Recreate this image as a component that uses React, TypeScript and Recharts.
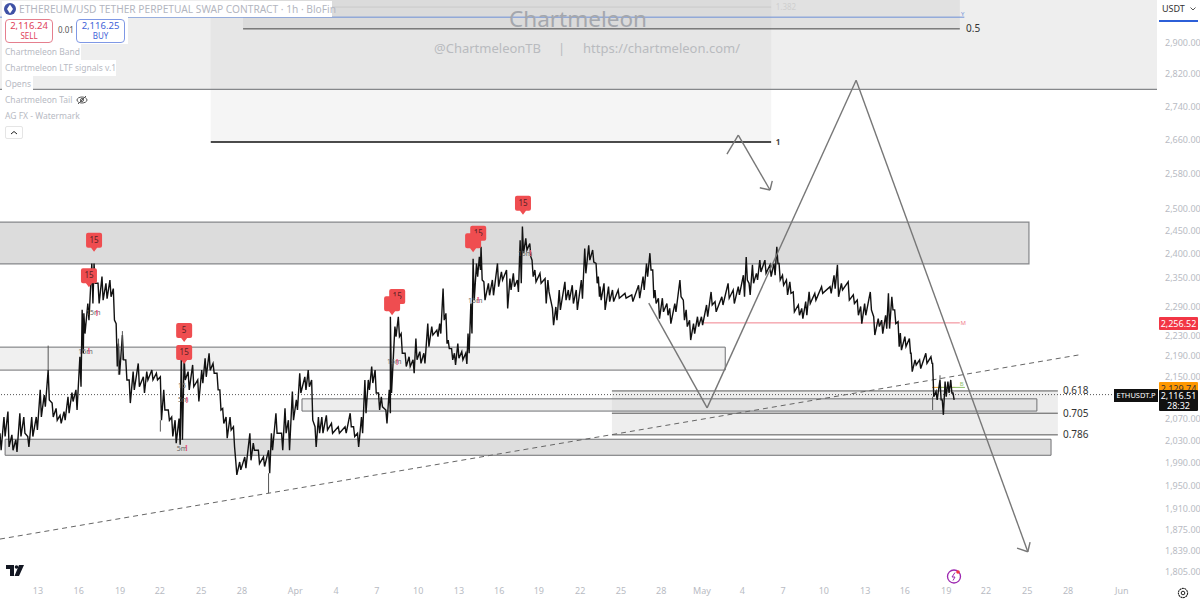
import {
  ComposedChart,
  Line,
  XAxis,
  YAxis,
  ReferenceArea,
  ReferenceLine,
  ReferenceDot,
} from "recharts";

// x values are hours on the chart's time axis (1h chart, left edge = 0)
const HOURS = [
  0, 7, 14, 21, 28, 35, 42, 49, 56, 64, 71, 78, 85, 92, 99, 106, 113, 120, 127, 134, 141, 145, 148, 155, 162, 166, 173, 180, 187, 194,
  200, 205, 209, 216, 222, 228, 235, 244, 253, 259, 268, 276, 283, 289, 297, 303, 309, 316, 320, 325, 332, 340, 349, 356, 362, 369, 376, 383, 388, 393,
  399, 406, 412, 416, 423, 432, 441, 447, 456, 465, 474, 479, 487, 497, 503, 509, 516, 523, 529, 538, 544, 550, 556, 562, 568, 576, 585, 597, 609, 618,
  624, 631, 638, 644, 650, 656, 662, 668, 673, 681, 687, 689, 697, 703, 708, 715, 722, 729, 734, 741, 748, 755, 762, 771, 776, 782, 787, 791, 797, 802,
  808, 815, 822, 826, 831, 835, 841, 846, 849, 854, 862, 869, 878, 885, 894, 900, 906, 913, 918, 922, 928, 935, 939, 944, 953, 962, 967, 975, 981, 987,
  997, 1003, 1010, 1017, 1026, 1032, 1039, 1046, 1052, 1056, 1059, 1066, 1074, 1081, 1091, 1103, 1115, 1127, 1135, 1141, 1147, 1152, 1156, 1162, 1169, 1177, 1182, 1191, 1200, 1206,
  1211, 1217, 1224, 1231, 1238, 1247, 1255, 1262, 1274, 1285, 1294, 1303, 1312, 1317, 1322, 1328, 1335, 1341, 1350, 1359, 1366, 1371, 1375, 1381, 1388, 1394, 1400, 1409, 1415, 1422,
  1428, 1438, 1450, 1465, 1472, 1478, 1485, 1497, 1506, 1513, 1519, 1526, 1536, 1542, 1550, 1556, 1563, 1568, 1574, 1579, 1585, 1589, 1597, 1605, 1608, 1615, 1623, 1634, 1643, 1646,
  1652, 1659, 1663, 1668, 1673, 1678, 1682,
];
const HIGHS = [
  2044, 2074, 2084, 2041, 2032, 2081, 2074, 2038, 2074, 2074, 2125, 2115, 2163, 2100, 2090, 2077, 2084, 2112, 2120, 2125, 2189, 2283, 2276, 2296, 2380, 2380, 2338, 2352, 2338, 2345,
  2327, 2255, 2215, 2232, 2183, 2144, 2160, 2176, 2150, 2160, 2163, 2157, 2150, 2125, 2087, 2074, 2068, 2071, 2199, 2189, 2160, 2173, 2144, 2163, 2186, 2196, 2176, 2157, 2125, 2090,
  2074, 2074, 2056, 1995, 1992, 2001, 2044, 2026, 2013, 2001, 2013, 2044, 2081, 2044, 2090, 2068, 2122, 2106, 2157, 2150, 2163, 2144, 2056, 2074, 2074, 2077, 2062, 2056, 2056, 2081,
  2056, 2044, 2074, 2144, 2144, 2170, 2163, 2119, 2112, 2087, 2125, 2269, 2249, 2269, 2235, 2196, 2189, 2183, 2225, 2199, 2196, 2255, 2249, 2242, 2255, 2327, 2276, 2222, 2205, 2196,
  2215, 2199, 2196, 2235, 2296, 2390, 2380, 2394, 2416, 2341, 2338, 2345, 2380, 2362, 2366, 2348, 2359, 2345, 2430, 2460, 2434, 2423, 2387, 2366, 2359, 2348, 2345, 2286, 2289, 2324,
  2341, 2324, 2334, 2324, 2345, 2412, 2419, 2409, 2380, 2352, 2331, 2338, 2331, 2324, 2324, 2317, 2314, 2334, 2352, 2380, 2402, 2366, 2324, 2307, 2307, 2296, 2286, 2296, 2345, 2303,
  2283, 2262, 2255, 2269, 2269, 2293, 2320, 2300, 2310, 2338, 2324, 2331, 2355, 2394, 2338, 2377, 2359, 2387, 2387, 2377, 2380, 2416, 2380, 2355, 2345, 2341, 2320, 2293, 2286, 2300,
  2320, 2317, 2331, 2331, 2355, 2377, 2338, 2341, 2314, 2303, 2290, 2296, 2320, 2269, 2265, 2262, 2272, 2317, 2310, 2283, 2259, 2236, 2229, 2225, 2196, 2183, 2183, 2196, 2189, 2176,
  2122, 2144, 2106, 2141, 2141, 2144, 2119,
];
const LOWS = [
  2013, 2038, 2019, 2013, 2010, 2038, 2044, 2019, 2038, 2050, 2074, 2093, 2106, 2074, 2068, 2062, 2068, 2081, 2103, 2087, 2131, 2196, 2235, 2262, 2296, 2338, 2296, 2303, 2306, 2310,
  2262, 2170, 2154, 2183, 2144, 2100, 2125, 2131, 2119, 2144, 2144, 2144, 2068, 2087, 2068, 2038, 2026, 2023, 2032, 2144, 2125, 2131, 2103, 2138, 2150, 2163, 2157, 2125, 2087, 2062,
  2035, 2050, 2019, 1969, 1978, 1981, 1995, 2013, 1989, 1984, 1972, 2013, 2044, 2013, 2044, 2013, 2068, 2087, 2119, 2125, 2131, 2068, 2019, 2044, 2044, 2050, 2044, 2044, 2044, 2056,
  2038, 2019, 2044, 2081, 2125, 2138, 2119, 2087, 2093, 2062, 2081, 2119, 2229, 2229, 2196, 2170, 2170, 2157, 2183, 2176, 2176, 2209, 2232, 2229, 2235, 2262, 2215, 2205, 2183, 2173,
  2186, 2183, 2175, 2196, 2235, 2303, 2352, 2366, 2345, 2303, 2313, 2313, 2331, 2345, 2286, 2324, 2331, 2320, 2338, 2402, 2409, 2394, 2352, 2341, 2338, 2296, 2320, 2252, 2262, 2283,
  2303, 2303, 2296, 2283, 2306, 2359, 2387, 2383, 2338, 2310, 2303, 2283, 2300, 2300, 2307, 2307, 2300, 2307, 2324, 2352, 2366, 2307, 2296, 2265, 2279, 2272, 2255, 2279, 2310, 2262,
  2249, 2222, 2235, 2249, 2252, 2269, 2293, 2279, 2293, 2307, 2296, 2314, 2310, 2345, 2314, 2338, 2345, 2362, 2359, 2352, 2355, 2380, 2345, 2334, 2314, 2317, 2279, 2272, 2265, 2272,
  2296, 2303, 2317, 2317, 2327, 2310, 2324, 2303, 2296, 2272, 2255, 2272, 2283, 2232, 2249, 2235, 2245, 2245, 2283, 2255, 2209, 2202, 2209, 2196, 2160, 2173, 2166, 2176, 2176, 2112,
  2106, 2106, 2078, 2112, 2119, 2119, 2106,
];

// long single wicks sticking out of the candle mass
const WICK_HOURS = [85, 283, 474, 1646, 1659, 209, 216];
const WICK_HIGHS = [2211, 2068, 1972, 2112, 2153, 2225, 2240];
const WICK_LOWS = [2163, 2047, 1937, 2087, 2144, 2154, 2183];

const PRICE_TICKS = [1805, 1839, 1875, 1910, 1950, 1990, 2030, 2070, 2150, 2190, 2230, 2290, 2350, 2400, 2450, 2500, 2580, 2660, 2740, 2820, 2900];
const TIME_TICKS = [67, 139, 212, 282, 355, 427, 521, 593, 665, 738, 810, 881, 951, 1024, 1096, 1167, 1239, 1310, 1382, 1454, 1527, 1597, 1670, 1740, 1813, 1885, 1980];
const TIME_LABELS = ["13", "16", "19", "22", "25", "28", "Apr", "4", "7", "10", "13", "16", "19", "22", "25", "28", "May", "4", "7", "10", "13", "16", "19", "22", "25", "28", "Jun"];

// red signal flags
const FLAG_HOURS = [166, 157, 325, 325, 701, 692, 844, 835, 923];
const FLAG_PRICES = [2405, 2330, 2218, 2175, 2287, 2272, 2420, 2404, 2486];
const FLAG_TEXTS = ["15", "15", "5", "15", "15", "", "15", "", "15"];

// small LTF signal captions
const SIGNAL_HOURS = [138, 152, 314, 314, 312, 683, 826, 914];
const SIGNAL_PRICES = [2199, 2277, 2134, 2106, 2017, 2179, 2303, 2402];
const SIGNAL_TEXTS = ["15m", "15m", "15", "5m", "5m", "15m", "15m", "15m"];
const SIGNAL_MARK_HOURS = [155, 169, 328, 327, 699, 842, 934];
const SIGNAL_MARK_PRICES = [2199, 2277, 2106, 2017, 2179, 2303, 2402];

const MIN_HOUR = 0;
const MAX_HOUR = 2042;
const MIN_PRICE = 1784;
const MAX_PRICE = 3014;

// each stretch of candles is drawn high then low, so the line scribbles like a dense 1h chart
const candleData = HOURS.flatMap((h, i) => [
  { h, price: HIGHS[i] },
  { h: h + 2, price: LOWS[i] },
]);

const Flag = (props: any) => {
  const { cx, cy, text } = props;
  return (
    <g>
      <path
        d={`M${cx - 8} ${cy - 17} q0 -2 2 -2 h12 q2 0 2 2 v11 q0 2 -2 2 h-3 l-3 4 l-3 -4 h-3 q-2 0 -2 -2 z`}
        fill="#ef4d50"
      />
      <text x={cx} y={cy - 9} fontSize={8} textAnchor="middle" fill="#5a2326" fontFamily="Noto Sans">
        {text}
      </text>
    </g>
  );
};

const Caption = (props: any) => {
  const { cx, cy, text, fill, size, weight, anchor, family } = props;
  return (
    <text
      x={cx}
      y={cy}
      dy="0.35em"
      fontSize={size}
      fontWeight={weight}
      textAnchor={anchor ?? "start"}
      fill={fill}
      fontFamily={family ?? "Noto Sans"}
    >
      {text}
    </text>
  );
};

const boxStyle = (top: number, color: string) => ({
  position: "absolute" as const,
  left: 1159,
  top,
  width: 39,
  height: 13,
  background: color,
  color: "#fff",
  fontSize: 9,
  lineHeight: "13px",
  textAlign: "center" as const,
  borderRadius: 1,
});

const legendRow = (top: number, width: number, text: string) => (
  <div
    style={{
      position: "absolute",
      left: 2,
      top,
      width,
      height: 16,
      lineHeight: "16px",
      background: "#fff",
      paddingLeft: 3,
      color: "#b7bac3",
      fontSize: 8.5,
      whiteSpace: "nowrap",
    }}
  >
    {text}
  </div>
);

export default function App() {
  return (
    <div style={{ position: "absolute", left: 0, top: 0, width: 1200, height: 601, overflow: "hidden", background: "#fff", fontFamily: "Noto Sans" }}>
      <ComposedChart width={1200} height={601} data={candleData} margin={{ top: 0, right: 0, bottom: 0, left: 0 }}>
        <XAxis
          dataKey="h"
          type="number"
          domain={[MIN_HOUR, MAX_HOUR]}
          allowDataOverflow
          ticks={TIME_TICKS}
          interval={0}
          tickFormatter={(v) => TIME_LABELS[TIME_TICKS.indexOf(v)]}
          axisLine={false}
          tickLine={false}
          height={16}
          tick={{ fill: "#b8bbc3", fontSize: 9, fontFamily: "Noto Sans", dy: -5 }}
        />
        <YAxis
          orientation="right"
          scale="log"
          domain={[MIN_PRICE, MAX_PRICE]}
          allowDataOverflow
          ticks={PRICE_TICKS}
          interval={0}
          tickFormatter={(v) => v.toLocaleString("en-US") + ".00"}
          axisLine={false}
          tickLine={false}
          width={43}
          tick={{ fill: "#b8bbc3", fontSize: 9, fontFamily: "Noto Sans" }}
        />

        {/* shaded zones */}
        <ReferenceArea x1={0} x2={MAX_HOUR} y1={2782} y2={MAX_PRICE} fill="#eeeeee" fillOpacity={1} />
        <ReferenceArea x1={372} x2={1361} y1={2654} y2={MAX_PRICE} fill="#b8b8b8" fillOpacity={0.14} />
        <ReferenceArea x1={429} x2={1694} y1={2937} y2={MAX_PRICE} fill="#b0b0b0" fillOpacity={0.2} />
        <ReferenceArea x1={-20} x2={1816} y1={2379} y2={2470} fill="#dcdcdc" fillOpacity={1} stroke="#85878a" strokeWidth={1.2} ifOverflow="hidden" />
        <ReferenceArea x1={-20} x2={1280} y1={2163} y2={2208} fill="#f0f0f0" fillOpacity={1} stroke="#6f7073" ifOverflow="hidden" />
        <ReferenceArea x1={9} x2={1855} y1={2004} y2={2033} fill="#dedede" fillOpacity={1} stroke="#6f7073" />
        <ReferenceArea x1={1080} x2={1867} y1={2081} y2={2123} fill="#e8e8e8" fillOpacity={0.8} />
        <ReferenceArea x1={1080} x2={1867} y1={2041} y2={2081} fill="#eeeeee" fillOpacity={1} />
        <ReferenceArea x1={533} x2={1830} y1={2085} y2={2108} fill="#d8d8d8" fillOpacity={0.45} stroke="#6f7073" />

        {/* fib levels */}
        <ReferenceLine segment={[{ x: 429, y: 2995 }, { x: 1361, y: 2995 }]} stroke="#c9c9c9" />
        <ReferenceLine segment={[{ x: 0, y: 2968 }, { x: 1702, y: 2968 }]} stroke="#6d8fd6" />
        <ReferenceLine segment={[{ x: 429, y: 2937 }, { x: 1694, y: 2937 }]} stroke="#444" />
        <ReferenceLine segment={[{ x: 0, y: 2782 }, { x: MAX_HOUR, y: 2782 }]} stroke="#85878a" strokeWidth={1.4} />
        <ReferenceLine segment={[{ x: 372, y: 2654 }, { x: 1361, y: 2654 }]} stroke="#111" strokeWidth={1.5} />
        <ReferenceLine segment={[{ x: 1080, y: 2123 }, { x: 1867, y: 2123 }]} stroke="#555" />
        <ReferenceLine segment={[{ x: 1080, y: 2081 }, { x: 1867, y: 2081 }]} stroke="#555" />
        <ReferenceLine segment={[{ x: 1080, y: 2041 }, { x: 1867, y: 2041 }]} stroke="#555" />

        {/* last price, trend and marker lines */}
        <ReferenceLine y={2116} stroke="#555" strokeDasharray="1 2" />
        <ReferenceLine segment={[{ x: 0, y: 1859 }, { x: 1906, y: 2193 }]} stroke="#666" strokeDasharray="5 4" />
        <ReferenceLine segment={[{ x: 1241, y: 2256.52 }, { x: 1694, y: 2256.52 }]} stroke="#f0808c" />
        <ReferenceLine segment={[{ x: 1645, y: 2129.74 }, { x: 1686, y: 2129.74 }]} stroke="#f0a030" />
        <ReferenceLine segment={[{ x: 1655, y: 2129.74 }, { x: 1703, y: 2129.74 }]} stroke="#8fbf6a" />

        <Line dataKey="price" type="linear" stroke="#111" strokeWidth={1.4} dot={false} activeDot={false} isAnimationActive={false} />

        {WICK_HOURS.map((h, i) => (
          <ReferenceLine key={"w" + i} segment={[{ x: h, y: WICK_LOWS[i] }, { x: h, y: WICK_HIGHS[i] }]} stroke="#555" />
        ))}

        {/* hand drawn projection arrows */}
        <ReferenceLine segment={[{ x: 1145, y: 2297 }, { x: 1248, y: 2091 }]} stroke="#777" strokeWidth={1.4} />
        <ReferenceLine segment={[{ x: 1248, y: 2091 }, { x: 1511, y: 2805 }]} stroke="#777" strokeWidth={1.4} />
        <ReferenceLine segment={[{ x: 1511, y: 2805 }, { x: 1814, y: 1838 }]} stroke="#777" strokeWidth={1.4} />
        <ReferenceLine segment={[{ x: 1795, y: 1844 }, { x: 1814, y: 1838 }]} stroke="#777" strokeWidth={1.4} />
        <ReferenceLine segment={[{ x: 1818, y: 1854 }, { x: 1814, y: 1838 }]} stroke="#777" strokeWidth={1.4} />
        <ReferenceLine segment={[{ x: 1283, y: 2625 }, { x: 1303, y: 2670 }]} stroke="#777" strokeWidth={1.4} />
        <ReferenceLine segment={[{ x: 1303, y: 2670 }, { x: 1359, y: 2542 }]} stroke="#777" strokeWidth={1.4} />
        <ReferenceLine segment={[{ x: 1341, y: 2547 }, { x: 1359, y: 2542 }]} stroke="#777" strokeWidth={1.4} />
        <ReferenceLine segment={[{ x: 1363, y: 2563 }, { x: 1359, y: 2542 }]} stroke="#777" strokeWidth={1.4} />

        {/* signal captions and flags */}
        {SIGNAL_HOURS.map((h, i) => (
          <ReferenceDot
            key={"s" + i}
            x={h}
            y={SIGNAL_PRICES[i]}
            r={0}
            shape={(p: any) => <Caption {...p} text={SIGNAL_TEXTS[i]} size={7} fill="#666" />}
          />
        ))}
        {SIGNAL_MARK_HOURS.map((h, i) => (
          <ReferenceDot
            key={"m" + i}
            x={h}
            y={SIGNAL_MARK_PRICES[i]}
            r={0}
            shape={(p: any) => <Caption {...p} text="!" size={8} weight={700} fill="#e9577f" />}
          />
        ))}
        {FLAG_HOURS.map((h, i) => (
          <ReferenceDot key={"f" + i} x={h} y={FLAG_PRICES[i]} r={0} shape={(p: any) => <Flag {...p} text={FLAG_TEXTS[i]} />} />
        ))}

        {/* level labels */}
        <ReferenceDot x={1876} y={2123} r={0} shape={(p: any) => <Caption {...p} text="0.618" size={10} fill="#333" />} />
        <ReferenceDot x={1876} y={2081} r={0} shape={(p: any) => <Caption {...p} text="0.705" size={10} fill="#333" />} />
        <ReferenceDot x={1876} y={2041} r={0} shape={(p: any) => <Caption {...p} text="0.786" size={10} fill="#333" />} />
        <ReferenceDot x={1705} y={2937} r={0} shape={(p: any) => <Caption {...p} text="0.5" size={10} fill="#333" />} />
        <ReferenceDot x={1369} y={2654} r={0} shape={(p: any) => <Caption {...p} text="1" size={8} weight={700} fill="#444" />} />
        <ReferenceDot x={1369} y={2995} r={0} shape={(p: any) => <Caption {...p} text="1.382" size={8} fill="#cfcfcf" />} />
        <ReferenceDot x={1696} y={2976} r={0} shape={(p: any) => <Caption {...p} text="Y" size={6} fill="#6d8fd6" />} />
        <ReferenceDot x={1695} y={2256.52} r={0} shape={(p: any) => <Caption {...p} text="M" size={6} fill="#f0808c" />} />
        <ReferenceDot x={1694} y={2137} r={0} shape={(p: any) => <Caption {...p} text="B" size={6} fill="#8fbf6a" />} />
      </ComposedChart>

      {/* watermark */}
      <div style={{ position: "absolute", left: 378, width: 400, top: 3, textAlign: "center", fontSize: 22.5, color: "#a4a7ad", lineHeight: "32px" }}>
        Chartmeleon
      </div>
      <div style={{ position: "absolute", left: 434, top: 39, fontSize: 13, color: "#b9bbbf", lineHeight: "18px" }}>@ChartmeleonTB</div>
      <div style={{ position: "absolute", left: 558, top: 39, fontSize: 13, color: "#b9bbbf", lineHeight: "18px" }}>|</div>
      <div style={{ position: "absolute", left: 583, top: 39, fontSize: 13, color: "#b9bbbf", lineHeight: "18px" }}>https://chartmeleon.com/</div>

      {/* legend */}
      <div style={{ position: "absolute", left: 2, top: 1, width: 330, height: 16, background: "#fff" }} />
      <svg style={{ position: "absolute", left: 4, top: 3 }} width={12} height={12}>
        <circle cx={6} cy={6} r={6} fill="#3f51a5" />
        <path d="M6 1.5 L9 6 L6 10.5 L3 6 Z" fill="#fff" />
      </svg>
      <div style={{ position: "absolute", left: 19, top: 1, height: 16, lineHeight: "16px", fontSize: 10.2, color: "#b3b6c0", whiteSpace: "nowrap" }}>
        ETHEREUM/USD TETHER PERPETUAL SWAP CONTRACT · 1h · BloFin
      </div>
      <div style={{ position: "absolute", left: 2, top: 17, width: 126, height: 27, background: "#fff" }} />
      <div style={{ position: "absolute", left: 5, top: 19, width: 46, height: 21, border: "1px solid #e57f8e", borderRadius: 4, textAlign: "center", color: "#e0405a", fontSize: 9.5, lineHeight: "10px", paddingTop: 1, boxSizing: "content-box" }}>
        <div>2,116.24</div>
        <div style={{ fontSize: 8 }}>SELL</div>
      </div>
      <div style={{ position: "absolute", left: 58, top: 25, fontSize: 8, color: "#555", lineHeight: "10px" }}>0.01</div>
      <div style={{ position: "absolute", left: 76, top: 19, width: 47, height: 21, border: "1px solid #7f98e5", borderRadius: 4, textAlign: "center", color: "#3f63d8", fontSize: 9.5, lineHeight: "10px", paddingTop: 1, boxSizing: "content-box" }}>
        <div>2,116.25</div>
        <div style={{ fontSize: 8 }}>BUY</div>
      </div>
      {legendRow(44, 76, "Chartmeleon Band")}
      {legendRow(60, 111, "Chartmeleon LTF signals v.1")}
      {legendRow(76, 28, "Opens")}
      {legendRow(92, 72, "Chartmeleon Tail")}
      {legendRow(108, 78, "AG FX - Watermark")}
      <svg style={{ position: "absolute", left: 76, top: 94 }} width={12} height={12}>
        <ellipse cx={6} cy={6} rx={5} ry={3} fill="none" stroke="#555" />
        <circle cx={6} cy={6} r={1.5} fill="none" stroke="#555" />
        <path d="M2 10 L10 2" stroke="#555" />
      </svg>
      <div style={{ position: "absolute", left: 5, top: 126, width: 18, height: 13, border: "1px solid #e5e5e5", borderRadius: 2, boxSizing: "border-box" }}>
        <svg width={16} height={11} style={{ display: "block" }}>
          <path d="M5 7 L8 4.5 L11 7" fill="none" stroke="#222" />
        </svg>
      </div>

      {/* price axis badges */}
      <div style={{ position: "absolute", left: 1158, top: 0, width: 42, height: 20, background: "#fff" }} />
      <div style={{ position: "absolute", left: 1162, top: 3, fontSize: 9, color: "#333", lineHeight: "12px" }}>USDT</div>
      <svg style={{ position: "absolute", left: 1190, top: 7 }} width={6} height={4}>
        <path d="M0.5 0.5 L3 3 L5.5 0.5" fill="none" stroke="#555" />
      </svg>
      <div style={{ position: "absolute", left: 1159, top: 20, width: 39, height: 2, background: "#2c5fd8" }} />
      <div style={boxStyle(317, "#f23645")}>2,256.52</div>
      <div style={boxStyle(382, "#ff9800")}>
        <span style={{ color: "#333" }}>2,129.74</span>
      </div>
      <div style={{ ...boxStyle(390, "#111"), height: 20, lineHeight: "10px", paddingTop: 1 }}>
        <div>2,116.51</div>
        <div>28:32</div>
      </div>
      <div style={{ position: "absolute", left: 1114, top: 389, width: 44, height: 13, background: "#111", color: "#fff", fontSize: 7.5, lineHeight: "13px", textAlign: "center" }}>
        ETHUSDT.P
      </div>

      {/* tradingview logo and small icons */}
      <svg style={{ position: "absolute", left: 6, top: 565 }} width={18} height={12}>
        <path d="M0 0 H8 V11 H4 V4 H0 Z" fill="#131722" />
        <circle cx={10.5} cy={2} r={1.8} fill="#131722" />
        <path d="M13 0 H18 L13 11 H8.5 Z" fill="#131722" />
      </svg>
      <svg style={{ position: "absolute", left: 945, top: 568 }} width={18} height={17}>
        <circle cx={9} cy={8.5} r={6.5} fill="none" stroke="#9c27b0" strokeWidth={1.3} />
        <path d="M10 4.5 L7 9 H10 L8 12.5" fill="none" stroke="#9c27b0" />
        <circle cx={13} cy={4} r={1.8} fill="#f23645" />
      </svg>
      <svg style={{ position: "absolute", left: 1176, top: 586 }} width={14} height={14}>
        <circle cx={7} cy={7} r={4.6} fill="none" stroke="#222" strokeWidth={1.1} strokeDasharray="2 0.5" />
        <circle cx={7} cy={7} r={1.8} fill="none" stroke="#222" />
      </svg>
    </div>
  );
}
